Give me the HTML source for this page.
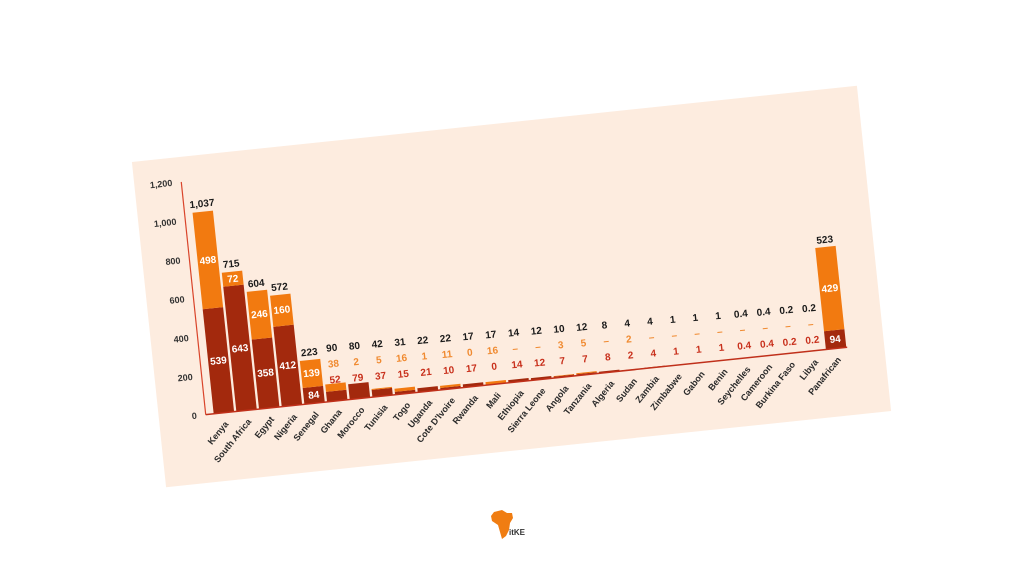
<!DOCTYPE html>
<html><head><meta charset="utf-8"><style>
html,body{margin:0;padding:0;background:#fff;width:1024px;height:576px;overflow:hidden;position:relative}
#p{position:absolute;left:147px;top:123px;width:729px;height:327px;background:#fdecdf;transform:rotate(-6deg);transform-origin:50% 50%}
svg text{font-family:"Liberation Sans",sans-serif;font-weight:bold}
</style></head><body>
<div id="p">
<svg width="729" height="327" viewBox="0 0 729 327">
<g font-size="9" fill="#333" text-anchor="end" font-weight="normal">
<text x="38" y="262">0</text><text x="38" y="223">200</text><text x="38" y="184">400</text><text x="38" y="145">600</text><text x="38" y="106">800</text><text x="38" y="67">1,000</text><text x="38" y="28">1,200</text>
</g>
<g fill="#a3290d">
<rect x="55" y="153.9" width="20.5" height="105.1"/>
<rect x="77.8" y="133.6" width="20.5" height="125.4"/>
<rect x="100.6" y="189.2" width="20.5" height="69.8"/>
<rect x="123.4" y="178.7" width="20.5" height="80.3"/>
<rect x="146.2" y="242.6" width="20.5" height="16.4"/>
<rect x="169" y="248.9" width="20.5" height="10.1"/>
<rect x="191.8" y="243.6" width="20.5" height="15.4"/>
<rect x="214.6" y="251.8" width="20.5" height="7.2"/>
<rect x="237.4" y="256.1" width="20.5" height="2.9"/>
<rect x="260.2" y="254.9" width="20.5" height="4.1"/>
<rect x="283" y="257" width="20.5" height="2"/>
<rect x="305.8" y="255.7" width="20.5" height="3.3"/>
<rect x="351.4" y="256.3" width="20.5" height="2.7"/>
<rect x="374.2" y="256.7" width="20.5" height="2.3"/>
<rect x="397" y="257.6" width="20.5" height="1.4"/>
<rect x="419.8" y="257.6" width="20.5" height="1.4"/>
<rect x="442.6" y="257.4" width="20.5" height="1.6"/>
<rect x="465.4" y="258.4" width="20.5" height="0.6"/>
<rect x="488.2" y="258.2" width="20.5" height="0.8"/>
<rect x="670.6" y="240.7" width="20.5" height="18.3"/>
</g>
<g fill="#f27a10">
<rect x="55" y="56.8" width="20.5" height="97.1"/>
<rect x="77.8" y="119.6" width="20.5" height="14"/>
<rect x="100.6" y="141.2" width="20.5" height="48"/>
<rect x="123.4" y="147.5" width="20.5" height="31.2"/>
<rect x="146.2" y="215.5" width="20.5" height="27.1"/>
<rect x="169" y="241.5" width="20.5" height="7.4"/>
<rect x="214.6" y="250.8" width="20.5" height="1"/>
<rect x="237.4" y="253" width="20.5" height="3.1"/>
<rect x="283" y="254.9" width="20.5" height="2.1"/>
<rect x="328.6" y="255.9" width="20.5" height="3.1"/>
<rect x="397" y="257" width="20.5" height="0.6"/>
<rect x="419.8" y="256.6" width="20.5" height="1"/>
<rect x="670.6" y="157" width="20.5" height="83.7"/>
</g>
<line x1="47" y1="25" x2="47" y2="259" stroke="#d9442a" stroke-width="1.2"/>
<line x1="47" y1="259" x2="692" y2="259" stroke="#c0301a" stroke-width="1.5"/>
<g font-size="10" fill="#fff" text-anchor="middle">
<text x="65.3" y="210">539</text><text x="65.3" y="109">498</text>
<text x="88.1" y="200">643</text><text x="88.1" y="130">72</text>
<text x="110.9" y="227">358</text><text x="110.9" y="168">246</text>
<text x="133.7" y="222">412</text><text x="133.7" y="166">160</text>
<text x="156.5" y="254">84</text><text x="156.5" y="232">139</text>
<text x="680.9" y="253">94</text><text x="680.9" y="202">429</text>
</g>
<g font-size="10" fill="#1a1a1a" text-anchor="middle">
<text x="65.3" y="52">1,037</text><text x="88.1" y="115">715</text><text x="110.9" y="137">604</text><text x="133.7" y="143">572</text><text x="156.5" y="211">223</text><text x="680.9" y="153">523</text>
<text x="179.3" y="209">90</text><text x="202.1" y="209.5">80</text><text x="224.9" y="210">42</text><text x="247.7" y="210.5">31</text><text x="270.5" y="211">22</text><text x="293.3" y="211.5">22</text><text x="316.1" y="212">17</text><text x="338.9" y="212.5">17</text><text x="361.7" y="213">14</text><text x="384.5" y="213.5">12</text><text x="407.3" y="214">10</text><text x="430.1" y="214.5">12</text><text x="452.9" y="215">8</text><text x="475.7" y="215.5">4</text><text x="498.5" y="216">4</text><text x="521.3" y="216.5">1</text><text x="544.1" y="217">1</text><text x="566.9" y="217.5">1</text><text x="589.7" y="218">0.4</text><text x="612.5" y="218.5">0.4</text><text x="635.3" y="219">0.2</text><text x="658.1" y="219.5">0.2</text>
</g>
<g font-size="10" fill="#f08a30" text-anchor="middle" font-weight="normal">
<text x="179.3" y="225">38</text><text x="202.1" y="225.5">2</text><text x="224.9" y="226">5</text><text x="247.7" y="226.5">16</text><text x="270.5" y="227">1</text><text x="293.3" y="227.5">11</text><text x="316.1" y="228">0</text><text x="338.9" y="228.5">16</text><text x="361.7" y="229">–</text><text x="384.5" y="229.5">–</text><text x="407.3" y="230">3</text><text x="430.1" y="230.5">5</text><text x="452.9" y="231">–</text><text x="475.7" y="231.5">2</text><text x="498.5" y="232">–</text><text x="521.3" y="232.5">–</text><text x="544.1" y="233">–</text><text x="566.9" y="233.5">–</text><text x="589.7" y="234">–</text><text x="612.5" y="234.5">–</text><text x="635.3" y="235">–</text><text x="658.1" y="235.5">–</text>
</g>
<g font-size="10" fill="#c8301c" text-anchor="middle" font-weight="normal">
<text x="179.3" y="241">52</text><text x="202.1" y="241.5">79</text><text x="224.9" y="242">37</text><text x="247.7" y="242.5">15</text><text x="270.5" y="243">21</text><text x="293.3" y="243.5">10</text><text x="316.1" y="244">17</text><text x="338.9" y="244.5">0</text><text x="361.7" y="245">14</text><text x="384.5" y="245.5">12</text><text x="407.3" y="246">7</text><text x="430.1" y="246.5">7</text><text x="452.9" y="247">8</text><text x="475.7" y="247.5">2</text><text x="498.5" y="248">4</text><text x="521.3" y="248.5">1</text><text x="544.1" y="249">1</text><text x="566.9" y="249.5">1</text><text x="589.7" y="250">0.4</text><text x="612.5" y="250.5">0.4</text><text x="635.3" y="251">0.2</text><text x="658.1" y="251.5">0.2</text>
</g>
<g font-size="9" fill="#2a2a2a" text-anchor="end" font-weight="normal">
<text transform="translate(69,271) rotate(-45)">Kenya</text>
<text transform="translate(92,271) rotate(-45)">South Africa</text>
<text transform="translate(115,271) rotate(-45)">Egypt</text>
<text transform="translate(138,271) rotate(-45)">Nigeria</text>
<text transform="translate(160,271) rotate(-45)">Senegal</text>
<text transform="translate(183,271) rotate(-45)">Ghana</text>
<text transform="translate(206,271) rotate(-45)">Morocco</text>
<text transform="translate(229,271) rotate(-45)">Tunisia</text>
<text transform="translate(252,271) rotate(-45)">Togo</text>
<text transform="translate(274,271) rotate(-45)">Uganda</text>
<text transform="translate(297,271) rotate(-45)">Cote D'Ivoire</text>
<text transform="translate(320,271) rotate(-45)">Rwanda</text>
<text transform="translate(343,271) rotate(-45)">Mali</text>
<text transform="translate(366,271) rotate(-45)">Ethiopia</text>
<text transform="translate(388,271) rotate(-45)">Sierra Leone</text>
<text transform="translate(411,271) rotate(-45)">Angola</text>
<text transform="translate(434,271) rotate(-45)">Tanzania</text>
<text transform="translate(457,271) rotate(-45)">Algeria</text>
<text transform="translate(480,271) rotate(-45)">Sudan</text>
<text transform="translate(502,271) rotate(-45)">Zambia</text>
<text transform="translate(525,271) rotate(-45)">Zimbabwe</text>
<text transform="translate(548,271) rotate(-45)">Gabon</text>
<text transform="translate(571,271) rotate(-45)">Benin</text>
<text transform="translate(594,271) rotate(-45)">Seychelles</text>
<text transform="translate(616,271) rotate(-45)">Cameroon</text>
<text transform="translate(639,271) rotate(-45)">Burkina Faso</text>
<text transform="translate(662,271) rotate(-45)">Libya</text>
<text transform="translate(685,271) rotate(-45)">Panafrican</text>
</g>
</svg>
</div>
<svg style="position:absolute;left:488px;top:508px" width="50" height="36" viewBox="0 0 50 36">
<path d="M6 4 L14 2 L19 5 L24 5 L25 10 L22 15 L21 22 L18 28 L14 31 L12 24 L10 17 L4 13 L3 8 Z" fill="#f07d12"/>
<text x="21" y="27" font-family="Liberation Sans,sans-serif" font-size="8" fill="#333">itKE</text>
</svg>
</body></html>
